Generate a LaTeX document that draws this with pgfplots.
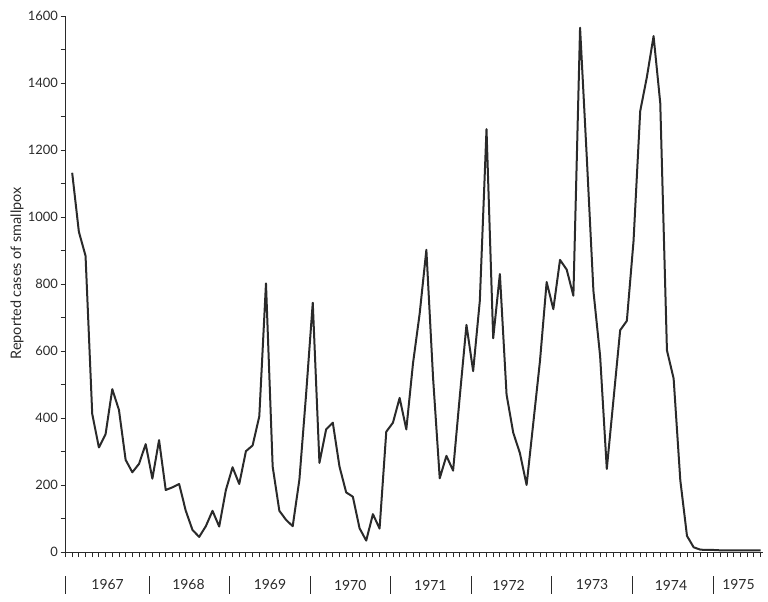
\documentclass[border=0pt]{standalone}
\usepackage{fontspec}
\setmainfont{Lato}
\usepackage{pgfplots}
\pgfplotsset{compat=1.18}
\definecolor{ink}{HTML}{2A2A2A}
\definecolor{txt}{HTML}{2A2A2A}

\begin{document}
\begin{tikzpicture}
\begin{axis}[
    scale only axis,
    width=697bp, height=536bp,
    xmin=0, xmax=104.3,
    ymin=0, ymax=1600,
    axis x line*=bottom, axis y line*=left,
    axis line style={ink, line width=1bp},
    tick align=outside,
    tick style={ink, line width=0.9bp},
    major tick length=5bp, minor tick length=5bp,
    xtick={0,...,104}, xticklabels={},
    ytick={0,200,...,1600},
    minor ytick={100,300,...,1500},
    tick label style={/pgf/number format/assume math mode=true, font=\fontsize{13}{15}\selectfont, text=txt},
    yticklabel style={/pgf/number format/1000 sep={}, xshift=1bp},
    ylabel={Reported cases of smallpox},
    ylabel style={at={(axis description cs:-0.0696,0.52)}, anchor=center, font=\fontsize{14.5}{16}\selectfont, text=txt},
    clip=false,
]
\addplot[ink, line width=2bp, line join=round] coordinates {
    (1,1132) (2,956) (3,884) (4,412) (5,312) (6,352) (7,486) (8,424)
    (9,275) (10,238) (11,263) (12,322) (13,219) (14,334) (15,185) (16,193)
    (17,203) (18,123) (19,66) (20,45) (21,77) (22,123) (23,76) (24,185)
    (25,253) (26,203) (27,301) (28,318) (29,405) (30,802) (31,255) (32,123)
    (33,96) (34,77) (35,216) (36,470) (37,744) (38,266) (39,366) (40,386)
    (41,255) (42,178) (43,165) (44,71) (45,34) (46,113) (47,70) (48,359)
    (49,386) (50,460) (51,366) (52,563) (53,712) (54,902) (55,521) (56,220)
    (57,287) (58,243) (59,464) (60,678) (61,540) (62,750) (63,1262) (64,638)
    (65,830) (66,470) (67,356) (68,295) (69,200) (70,385) (71,570) (72,806)
    (73,725) (74,872) (75,843) (76,765) (77,1565) (78,1180) (79,779) (80,585)
    (81,248) (82,455) (83,662) (84,690) (85,928) (86,1316) (87,1418) (88,1540)
    (89,1340) (90,602) (91,518) (92,214) (93,48) (94,14) (95,7) (96,6)
    (97,6) (98,5) (99,5) (100,5) (101,5) (102,5) (103,5) (104,5)
};
% year separators and labels
\pgfplotsinvokeforeach{0.07,12.5,24.6,36.6,48.7,60.7,72.7,84.8,96.9}{
    \draw[ink, line width=1bp] ([yshift=-24bp]axis cs:#1,0) -- ++(0,-18bp);
}
\tikzset{yr/.style={font=\fontsize{14}{16}\selectfont, text=txt}}
\node[yr] at ([yshift=-33bp]axis cs:6.3,0) {1967};
\node[yr] at ([yshift=-33bp]axis cs:18.4,0) {1968};
\node[yr] at ([yshift=-33bp]axis cs:30.6,0) {1969};
\node[yr] at ([yshift=-33bp]axis cs:42.6,0) {1970};
\node[yr] at ([yshift=-33bp]axis cs:54.6,0) {1971};
\node[yr] at ([yshift=-33bp]axis cs:66.3,0) {1972};
\node[yr] at ([yshift=-33bp]axis cs:78.8,0) {1973};
\node[yr] at ([yshift=-33bp]axis cs:90.6,0) {1974};
\node[yr] at ([yshift=-33bp]axis cs:100.7,0) {1975};
\end{axis}
\pgfresetboundingbox
\path (-65.5bp,-50bp) rectangle (702.5bp,552bp);
\end{tikzpicture}
\end{document}
